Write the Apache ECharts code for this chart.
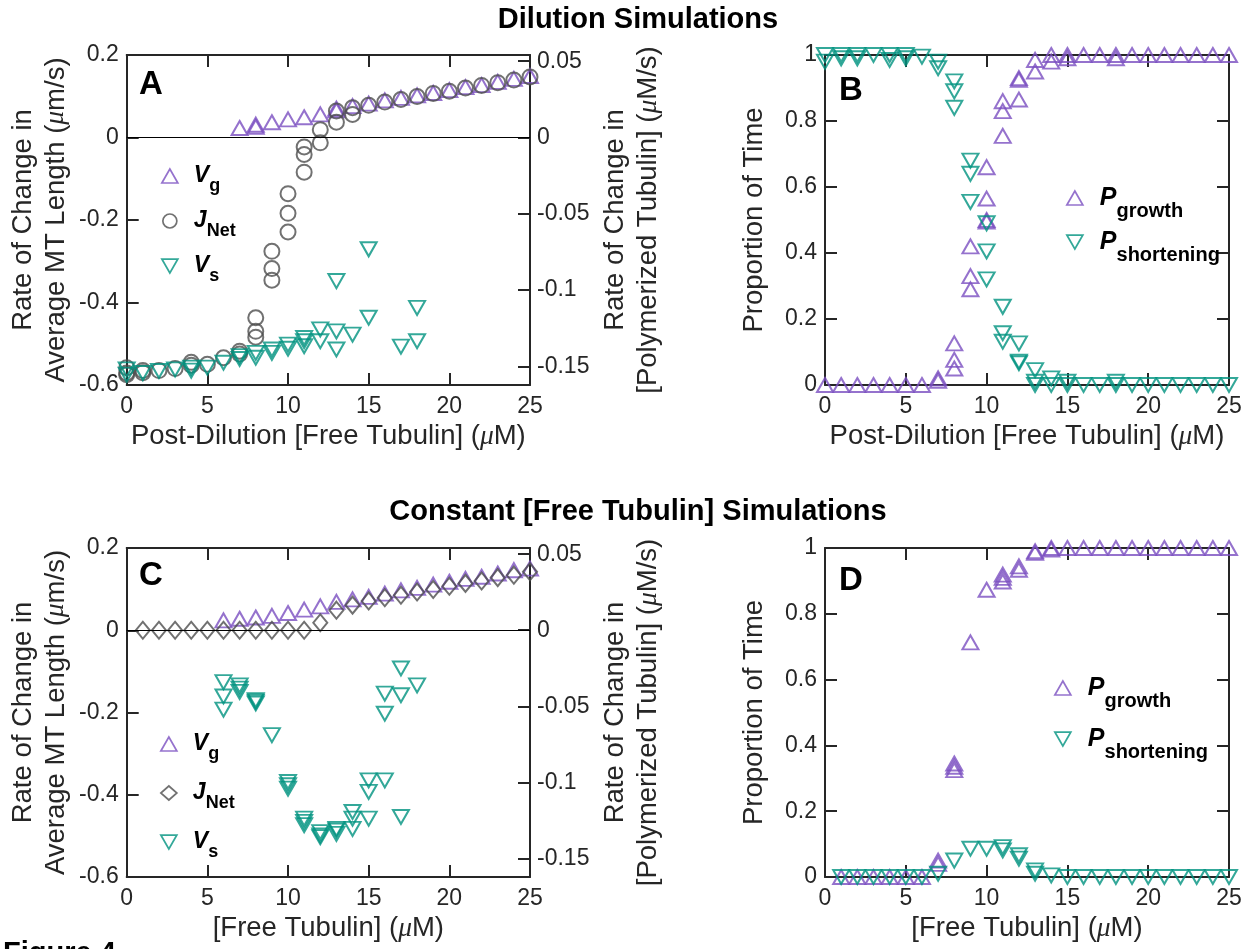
<!DOCTYPE html>
<html>
<head>
<meta charset="utf-8">
<script src="https://cdn.jsdelivr.net/npm/echarts@6/dist/echarts.min.js"></script>
<style>
  html, body { margin: 0; padding: 0; background: #fff; }
  #chart { width: 1250px; height: 949px; }
</style>
</head>
<body>
<div id="chart"></div>
<script>
// ---- data ----
// concentration ticks and right-axis ticks
const concTicks = [0, 5, 10, 15, 20, 25];
const fluxTicks = [-0.15, -0.1, -0.05, 0, 0.05];

// A: dilution, rates (um/s), J_Net in uM/s
const dilVg = [[7,0.023],[8,0.026],[8,0.031],[9,0.037],[10,0.044],[11,0.049],[12,0.056],[13,0.066],[13,0.070],
  [14,0.076],[15,0.082],[16,0.090],[17,0.096],[18,0.102],[19,0.108],[20,0.115],[21,0.122],[22,0.127],
  [23,0.135],[24,0.142],[25,0.149]];
const dilJnet = [[0,-0.1508],[0,-0.1543],[0,-0.1554],[1,-0.1527],[1,-0.1541],[2,-0.1527],[3,-0.1514],
  [4,-0.1473],[4,-0.1492],[5,-0.1486],[6,-0.1443],[7,-0.1400],[7,-0.1419],[8,-0.1181],[8,-0.1270],[8,-0.1308],
  [9,-0.0746],[9,-0.0859],[9,-0.0935],[10,-0.0368],[10,-0.0497],[10,-0.0619],[11,-0.0062],[11,-0.0111],
  [11,-0.0227],[12,0.0051],[12,-0.0035],[13,0.0173],[13,0.0100],[14,0.0195],[14,0.0151],[15,0.0211],
  [16,0.0232],[17,0.0249],[18,0.0268],[19,0.0289],[20,0.0303],[21,0.0324],[22,0.0341],[23,0.0359],
  [24,0.0376],[25,0.0397]];
const dilVs = [[0,-0.562],[0,-0.575],[1,-0.571],[2,-0.566],[3,-0.562],[4,-0.558],[4,-0.565],[5,-0.558],
  [6,-0.546],[7,-0.530],[7,-0.537],[8,-0.522],[8,-0.534],[9,-0.514],[9,-0.522],[10,-0.502],[10,-0.512],
  [11,-0.486],[11,-0.494],[11,-0.506],[12,-0.465],[12,-0.494],[13,-0.348],[13,-0.470],[13,-0.514],
  [14,-0.478],[15,-0.271],[15,-0.437],[17,-0.507],[18,-0.413],[18,-0.494]];

// B: dilution, proportions
const dilPgrow = [[0,0],[1,0],[2,0],[3,0],[4,0],[5,0],[6,0],[7,0.02],[7,0.013],[8,0.126],[8,0.076],[8,0.05],
  [9,0.42],[9,0.33],[9,0.29],[10,0.66],[10,0.565],[10,0.5],[10,0.495],[11,0.86],[11,0.83],[11,0.755],
  [12,0.93],[12,0.925],[12,0.865],[13,0.985],[13,0.95],[14,1],[14,0.98],[15,1],[15,0.99],[16,1],[17,1],
  [18,1],[18,0.99],[19,1],[20,1],[21,1],[22,1],[23,1],[24,1],[25,1]];
const dilPshort = [[0,1],[0,0.98],[1,1],[1,0.99],[2,1],[2,0.99],[3,1],[4,1],[4,0.985],[5,1],[5,0.99],
  [6,0.995],[7,0.98],[7,0.96],[8,0.92],[8,0.89],[8,0.84],[9,0.68],[9,0.64],[9,0.555],[10,0.49],[10,0.405],
  [10,0.32],[11,0.237],[11,0.157],[11,0.131],[12,0.126],[12,0.071],[12,0.066],[13,0.045],[13,0.01],[13,0],
  [14,0.02],[14,0],[15,0.01],[15,0],[16,0],[17,0],[18,0.01],[18,0],[19,0],[20,0],[21,0],[22,0],[23,0],
  [24,0],[25,0]];

// C: constant free tubulin, rates
const conVg = [[6,0.024],[7,0.028],[8,0.031],[9,0.035],[10,0.042],[11,0.05],[12,0.058],[13,0.069],[14,0.075],
  [15,0.081],[16,0.089],[17,0.097],[18,0.103],[19,0.111],[20,0.118],[21,0.125],[22,0.13],[23,0.138],
  [24,0.146],[25,0.15]];
const conJnet = [[1,0],[2,0],[3,0],[4,0],[5,0],[6,0],[7,0],[8,0],[9,0],[10,0],[11,0],[12,0.0049],[13,0.0132],
  [14,0.0165],[15,0.0192],[16,0.0214],[17,0.0230],[18,0.0251],[19,0.0268],[20,0.0289],[21,0.0308],
  [22,0.0324],[23,0.0346],[24,0.0362],[25,0.0384]];
const conVs = [[6,-0.126],[6,-0.161],[6,-0.193],[7,-0.134],[7,-0.142],[7,-0.15],[8,-0.17],[8,-0.174],[8,-0.178],
  [9,-0.255],[10,-0.369],[10,-0.377],[10,-0.385],[11,-0.458],[11,-0.466],[11,-0.474],[12,-0.491],[12,-0.499],
  [12,-0.503],[13,-0.483],[13,-0.487],[13,-0.495],[14,-0.442],[14,-0.458],[14,-0.483],[15,-0.365],[15,-0.393],
  [15,-0.458],[16,-0.154],[16,-0.203],[16,-0.365],[17,-0.093],[17,-0.158],[17,-0.454],[18,-0.134]];

// D: constant free tubulin, proportions
const conPgrow = [[1,0],[2,0],[3,0],[4,0],[5,0],[6,0],[7,0.05],[7,0.04],[8,0.345],[8,0.335],[8,0.325],
  [9,0.713],[10,0.873],[11,0.919],[11,0.909],[11,0.898],[12,0.944],[12,0.934],[13,0.99],[13,0.985],
  [14,1],[14,0.995],[15,1],[16,1],[17,1],[18,1],[19,1],[20,1],[21,1],[22,1],[23,1],[24,1],[25,1]];
const conPshort = [[1,0],[2,0],[3,0],[4,0],[5,0],[6,0],[7,0.01],[8,0.05],[9,0.086],[10,0.086],[11,0.091],
  [11,0.081],[12,0.066],[12,0.056],[13,0.02],[13,0.01],[14,0.005],[15,0],[16,0],[17,0],[18,0],[19,0],
  [20,0],[21,0],[22,0],[23,0],[24,0],[25,0]];

// ---- styling ----
const FONT = '"Liberation Sans", Arial, Helvetica, sans-serif';
const INK = '#262626';
const PURPLE = '#7b4fc0';
const TEAL = '#00927f';
const GRAY = '#4d4d4d';
const DOWN = 'path://M0,0L10,0L5,8.7Z';

const grids = [
  { left: 126.7, top: 55, width: 403.3, height: 330 },
  { left: 825, top: 55, width: 404, height: 330 },
  { left: 126.7, top: 548, width: 403.3, height: 329 },
  { left: 825, top: 548, width: 404, height: 329 }
];

const axLine = { onZero: false, lineStyle: { color: INK, width: 2 } };
const axTick = { inside: true, length: 12, lineStyle: { color: INK, width: 2 } };
const muRich = { mu: { fontStyle: 'italic', fontSize: 27.5, fontFamily: '"Liberation Serif", serif', color: INK } };
const nameStyle = { fontSize: 27.5, color: INK, fontFamily: FONT, lineHeight: 33, rich: muRich };
const tickFont = { color: INK, fontSize: 23, fontFamily: FONT };

function xAxes(g, name) {
  return [{
    gridIndex: g, type: 'value', position: 'bottom', min: 0, max: 25, interval: 5,
    name: name, nameLocation: 'middle', nameGap: 35, nameTextStyle: nameStyle, nameMoveOverlap: false,
    axisLine: axLine, axisTick: axTick, splitLine: { show: false },
    axisLabel: Object.assign({ margin: 10, showMinLabel: true, showMaxLabel: true }, tickFont)
  }, {
    gridIndex: g, type: 'value', position: 'top', min: 0, max: 25, interval: 5,
    axisLine: axLine, axisTick: axTick, splitLine: { show: false }, axisLabel: { show: false }
  }];
}

function yLeft(g, min, max, interval, name) {
  return {
    gridIndex: g, type: 'value', position: 'left', min: min, max: max, interval: interval,
    name: name, nameLocation: 'middle', nameRotate: 90, nameGap: 54, nameTextStyle: nameStyle,
    nameMoveOverlap: false,
    axisLine: axLine, axisTick: axTick, splitLine: { show: false },
    axisLabel: Object.assign({ margin: 8, showMinLabel: true, showMaxLabel: true }, tickFont)
  };
}

function yMirror(g, min, max, interval) {
  return {
    gridIndex: g, type: 'value', position: 'right', min: min, max: max, interval: interval,
    axisLine: axLine, axisTick: axTick, splitLine: { show: false }, axisLabel: { show: false }
  };
}

function yFlux(g, name) {
  return {
    gridIndex: g, type: 'value', position: 'right', min: -0.16216, max: 0.05405,
    name: name, nameLocation: 'middle', nameRotate: 90, nameGap: 69, nameTextStyle: nameStyle,
    nameMoveOverlap: false,
    axisLine: axLine, splitLine: { show: false },
    axisTick: Object.assign({ customValues: fluxTicks }, axTick),
    axisLabel: Object.assign({ margin: 7, customValues: fluxTicks }, tickFont)
  };
}

function scatter(name, data, g, yi, symbol, size, color, extra) {
  return Object.assign({
    name: name, type: 'scatter', data: data,
    xAxisIndex: 2 * g, yAxisIndex: 2 * g + yi,
    symbol: symbol, symbolSize: size, clip: false,
    itemStyle: { color: 'rgba(0,0,0,0)', borderColor: color, borderWidth: 2 },
    emphasis: { disabled: true }
  }, extra || {});
}

const zeroLine = {
  markLine: {
    silent: true, symbol: 'none', label: { show: false },
    lineStyle: { color: '#000', width: 1, type: 'solid' },
    data: [{ yAxis: 0 }]
  }
};

const legendText = {
  aVg: '{m|V}{s|g}', aJ: '{m|J}{s|Net}', aVs: '{m|V}{s|s}',
  cVg: '{m|V}{s|g}', cJ: '{m|J}{s|Net}', cVs: '{m|V}{s|s}',
  bPg: '{m|P}{s|growth}', bPs: '{m|P}{s|shortening}',
  dPg: '{m|P}{s|growth}', dPs: '{m|P}{s|shortening}'
};

function legend(names, left, top, gap, big) {
  return {
    data: names, orient: 'vertical', left: left, top: top, itemGap: gap,
    itemWidth: 16, itemHeight: 14, selectedMode: false,
    itemStyle: { borderWidth: 1.7 },
    formatter: function (n) { return legendText[n]; },
    textStyle: {
      color: '#000', fontFamily: FONT,
      rich: big ? {
        m: { fontSize: 25, fontWeight: 'bold', fontStyle: 'italic', fontFamily: FONT, color: '#000', padding: [0, 0, 0, 12] },
        s: { fontSize: 20, fontWeight: 'bold', fontFamily: FONT, color: '#000', padding: [27, 0, 0, 0] }
      } : {
        m: { fontSize: 23, fontWeight: 'bold', fontStyle: 'italic', fontFamily: FONT, color: '#000', padding: [0, 0, 0, 11] },
        s: { fontSize: 18, fontWeight: 'bold', fontFamily: FONT, color: '#000', padding: [21, 0, 0, 0] }
      }
    }
  };
}

const chart = echarts.init(document.getElementById('chart'), null, { renderer: 'canvas' });

const xName1 = 'Post-Dilution [Free Tubulin] ({mu|μ}M)';
const xName2 = '[Free Tubulin] ({mu|μ}M)';
const rateName = 'Rate of Change in\nAverage MT Length ({mu|μ}m/s)';
const fluxName = 'Rate of Change in\n[Polymerized Tubulin] ({mu|μ}M/s)';

chart.setOption({
  animation: false,
  backgroundColor: '#fff',
  grid: grids.map(function (g) { return Object.assign({ outerBoundsMode: 'none', containLabel: false }, g); }),
  xAxis: [].concat(xAxes(0, xName1), xAxes(1, xName1), xAxes(2, xName2), xAxes(3, xName2)),
  yAxis: [
    yLeft(0, -0.6, 0.2, 0.2, rateName), yFlux(0, fluxName),
    yLeft(1, 0, 1, 0.2, 'Proportion of Time'), yMirror(1, 0, 1, 0.2),
    yLeft(2, -0.6, 0.2, 0.2, rateName), yFlux(2, fluxName),
    yLeft(3, 0, 1, 0.2, 'Proportion of Time'), yMirror(3, 0, 1, 0.2)
  ],
  legend: [
    legend(['aVg', 'aJ', 'aVs'], 156, 159.5, 14, false),
    legend(['bPg', 'bPs'], 1061, 180.5, 8, true),
    legend(['cVg', 'cJ', 'cVs'], 155, 727.5, 18, false),
    legend(['dPg', 'dPs'], 1049, 670.5, 15, true)
  ],
  series: [
    scatter('aVg', dilVg, 0, 0, 'triangle', [16, 14], PURPLE, zeroLine),
    scatter('aJ', dilJnet, 0, 1, 'circle', 15, GRAY),
    scatter('aVs', dilVs, 0, 0, DOWN, [16, 14], TEAL),
    scatter('bPg', dilPgrow, 1, 0, 'triangle', [16, 14], PURPLE),
    scatter('bPs', dilPshort, 1, 0, DOWN, [16, 14], TEAL),
    scatter('cVg', conVg, 2, 0, 'triangle', [16, 14], PURPLE, zeroLine),
    scatter('cJ', conJnet, 2, 1, 'diamond', [14, 17], GRAY),
    scatter('cVs', conVs, 2, 0, DOWN, [16, 14], TEAL),
    scatter('dPg', conPgrow, 3, 0, 'triangle', [16, 14], PURPLE),
    scatter('dPs', conPshort, 3, 0, DOWN, [16, 14], TEAL)
  ],
  graphic: [
    { type: 'text', x: 638, y: 20, style: { text: 'Dilution Simulations', font: 'bold 29px ' + FONT, fill: '#000', textAlign: 'center', textVerticalAlign: 'middle' } },
    { type: 'text', x: 638, y: 512, style: { text: 'Constant [Free Tubulin] Simulations', font: 'bold 29px ' + FONT, fill: '#000', textAlign: 'center', textVerticalAlign: 'middle' } },
    { type: 'text', x: 139, y: 68, style: { text: 'A', font: 'bold 33px ' + FONT, fill: '#000' } },
    { type: 'text', x: 839, y: 74, style: { text: 'B', font: 'bold 33px ' + FONT, fill: '#000' } },
    { type: 'text', x: 139, y: 559, style: { text: 'C', font: 'bold 33px ' + FONT, fill: '#000' } },
    { type: 'text', x: 839, y: 564, style: { text: 'D', font: 'bold 33px ' + FONT, fill: '#000' } },
    { type: 'text', x: 3, y: 939, style: { text: 'Figure 4', font: 'bold 29px ' + FONT, fill: '#000' } }
  ]
});
</script>
</body>
</html>
